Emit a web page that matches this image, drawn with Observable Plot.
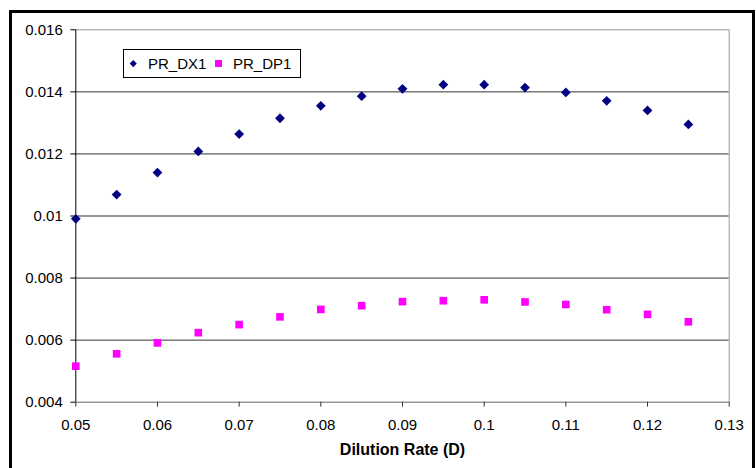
<!DOCTYPE html>
<html><head><meta charset="utf-8">
<script src="https://cdn.jsdelivr.net/npm/d3@7"></script>
<script src="https://cdn.jsdelivr.net/npm/@observablehq/plot@0.6"></script>
<style>
body{margin:0;background:#fff;}
#wrap{position:relative;width:756px;height:468px;overflow:hidden;font-family:"Liberation Sans",Arial,sans-serif;}
#wrap svg{position:absolute;left:0;top:0;}
#frame{position:absolute;left:9px;top:10px;width:746px;height:480px;border:3px solid #000;box-sizing:border-box;pointer-events:none;}
#legend{position:absolute;left:123px;top:49px;width:178px;height:29px;border:1px solid #000;box-sizing:border-box;background:#fff;font-size:15px;color:#000;}
#legend .item{position:absolute;top:5px;white-space:nowrap;}
#legend .sym{position:absolute;}
</style>
</head><body>
<div id="wrap"><div id="frame"></div></div>
<script>
const dilution = [0.05,0.055,0.06,0.065,0.07,0.075,0.08,0.085,0.09,0.095,0.1,0.105,0.11,0.115,0.12,0.125];
const prDX1 = [0.00991,0.01069,0.0114,0.01208,0.01264,0.01315,0.01355,0.01386,0.0141,0.01423,0.01423,0.01414,0.01398,0.01371,0.0134,0.01295];
const prDP1 = [0.00516,0.00556,0.00591,0.00624,0.0065,0.00675,0.00699,0.00711,0.00724,0.00727,0.0073,0.00723,0.00715,0.00698,0.00683,0.00659];
const seriesNames = ["PR_DX1","PR_DP1"];
const seriesColors = ["#000080","#FF00FF"];
const xTicks = [0.05,0.06,0.07,0.08,0.09,0.1,0.11,0.12,0.13];
const yTicks = [0.004,0.006,0.008,0.01,0.012,0.014,0.016];
const xLabel = "Dilution Rate (D)";

const dx = dilution.map((d,i)=>({D:d, v:prDX1[i]}));
const dp = dilution.map((d,i)=>({D:d, v:prDP1[i]}));

const chart = Plot.plot({
  width:756, height:468,
  marginLeft:75.3, marginRight:27.3, marginTop:29.3, marginBottom:66.3,
  x:{domain:[xTicks[0], xTicks[xTicks.length-1]]},
  y:{domain:[yTicks[0], yTicks[yTicks.length-1]]},
  style:{fontFamily:"'Liberation Sans', Arial, sans-serif", fontSize:"15px", color:"#000", background:"transparent", overflow:"visible"},
  marks:[
    Plot.ruleY(yTicks.slice(1,-1), {stroke:"#333", strokeWidth:1}),
    Plot.ruleY([yTicks[yTicks.length-1]], {stroke:"#999", strokeWidth:1}),
    Plot.ruleX([xTicks[xTicks.length-1]], {stroke:"#999", strokeWidth:1}),
    Plot.ruleY([yTicks[0]], {stroke:"#666", strokeWidth:1}),
    Plot.ruleX([xTicks[0]], {stroke:"#000", strokeWidth:1}),
    Plot.axisX({ticks:xTicks, tickFormat:d=>String(d), tickSize:5, tickPadding:12.5, label:null, stroke:"#333", fontSize:"15px"}),
    Plot.axisY({ticks:yTicks, tickFormat:d=>String(d), tickSize:5, tickPadding:8, label:null, stroke:"#000", fontSize:"15px"}),
    Plot.text([xLabel], {frameAnchor:"bottom", dy:53, text:d=>d, fontWeight:"bold", fontSize:16, fill:"#000"}),
    Plot.dot(dp, {x:"D", y:"v", symbol:"square", r:4.3, fill:seriesColors[1], stroke:"none"}),
    Plot.dot(dx, {x:"D", y:"v", symbol:"diamond2", r:4.4, fill:seriesColors[0], stroke:"none"})
  ]
});
const wrap = document.getElementById("wrap");
wrap.insertBefore(chart, wrap.firstChild);

const legend = document.createElement("div");
legend.id = "legend";
legend.innerHTML =
  `<div class="sym" style="left:7px;top:11px;width:4.5px;height:4.5px;background:${seriesColors[0]};transform:rotate(45deg);"></div>`+
  `<div class="item" style="left:24px;">${seriesNames[0]}</div>`+
  `<div class="sym" style="left:91px;top:10px;width:6.7px;height:6.7px;background:${seriesColors[1]};"></div>`+
  `<div class="item" style="left:109px;">${seriesNames[1]}</div>`;
wrap.appendChild(legend);
</script>
</body></html>
